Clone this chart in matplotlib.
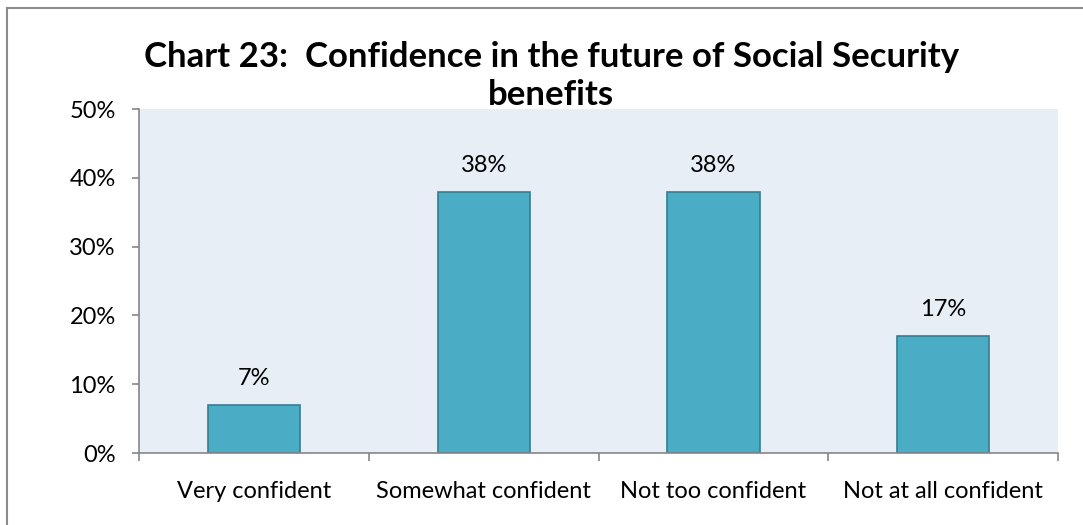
import matplotlib.pyplot as plt
from matplotlib.lines import Line2D
from matplotlib.ticker import FuncFormatter
import numpy as np

categories = ["Very confident", "Somewhat confident", "Not too confident", "Not at all confident"]
shares = [7, 38, 38, 17]
yticks = [0, 10, 20, 30, 40, 50]
title = "Chart 23:  Confidence in the future of Social Security\nbenefits"

plt.rcParams['font.family'] = ['Lato', 'DejaVu Sans']

fig = plt.figure(figsize=(10.83, 5.25), dpi=100)
ax = fig.add_axes([0.1288, 0.1371, 0.8477, 0.6552])
ax.set_facecolor('#E7EEF6')

x = np.arange(len(categories))
ax.bar(x, shares, width=0.403, color='#4BACC6', edgecolor='#357D91', linewidth=1.2, zorder=2)
for xi, v in zip(x, shares):
    ax.annotate("{}%".format(v), (xi, v), xytext=(0, 19), textcoords='offset points',
                ha='center', va='center', fontsize=17, color='black')

ax.set_xlim(-0.5, len(categories) - 0.5)
ax.set_ylim(0, 50)
ax.set_yticks(yticks)
ax.yaxis.set_major_formatter(FuncFormatter(lambda v, p: "{:.0f}%".format(v)))
ax.tick_params(axis='y', length=5, width=1.2, color='#868686', labelsize=17, pad=12)

# category labels sit between the boundary ticks
ax.set_xticks(x)
ax.set_xticklabels(categories, fontsize=17)
ax.tick_params(axis='x', which='major', length=0, pad=20)
ax.set_xticks(np.arange(len(categories) + 1) - 0.5, minor=True)
ax.tick_params(axis='x', which='minor', length=6, width=1.2, color='#868686')

for side in ['top', 'right']:
    ax.spines[side].set_visible(False)
for side in ['left', 'bottom']:
    ax.spines[side].set_color('#868686')
    ax.spines[side].set_linewidth(1.2)

fig.text(0.509, 0.855, title, ha='center', va='center', fontsize=25, fontweight='bold',
         linespacing=1.25)

# outer chart frame
fig.add_artist(Line2D([7 / 1083, 7 / 1083], [0, 1 - 8 / 525], color='#8C8C8C', linewidth=1.5))
fig.add_artist(Line2D([7 / 1083, 1], [1 - 8 / 525, 1 - 8 / 525], color='#8C8C8C', linewidth=1.5))

fig.savefig('out.png', dpi=100)
